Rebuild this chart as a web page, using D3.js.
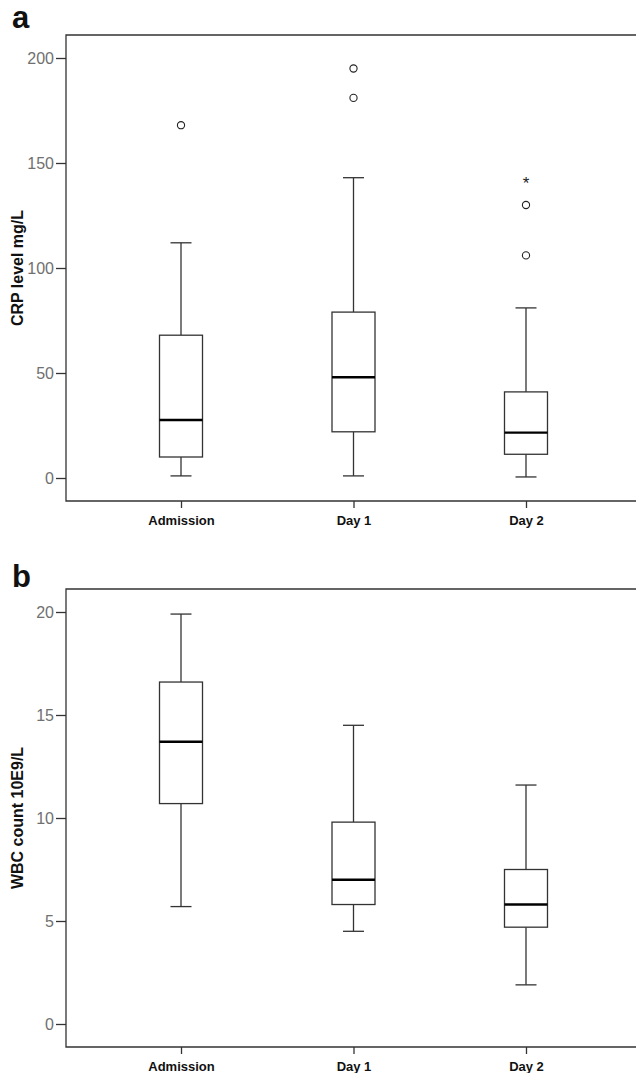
<!DOCTYPE html>
<html>
<head>
<meta charset="utf-8">
<script src="https://cdn.jsdelivr.net/npm/d3@7"></script>
<style>
  body { margin: 0; background: #fff; }
  text { font-family: "Liberation Sans", Arial, sans-serif; }
</style>
</head>
<body>
<div id="chart-area"></div>
<script>
// categories
var categories = ["Admission", "Day 1", "Day 2"];

// panel a: CRP level mg/L
var crpLow = [1, 1, 0.5];
var crpQ1 = [10, 22, 11.3];
var crpMedian = [27.6, 48, 21.6];
var crpQ3 = [68, 79, 41];
var crpHigh = [112, 143, 81];
var crpOutliers = [[168], [181, 195], [106, 130]];
var crpExtremes = [[], [], [142]];
var crpTicks = [0, 50, 100, 150, 200];

// panel b: WBC count 10E9/L
var wbcLow = [5.7, 4.5, 1.9];
var wbcQ1 = [10.7, 5.8, 4.7];
var wbcMedian = [13.7, 7.0, 5.8];
var wbcQ3 = [16.6, 9.8, 7.5];
var wbcHigh = [19.9, 14.5, 11.6];
var wbcOutliers = [[], [], []];
var wbcExtremes = [[], [], []];
var wbcTicks = [0, 5, 10, 15, 20];

var width = 636;
var height = 1073;

var svg = d3.select("#chart-area")
  .append("svg")
  .attr("width", width)
  .attr("height", height);

var frameLeft = 66;
var frameRight = 641;

var x = d3.scalePoint()
  .domain(categories)
  .range([frameLeft, frameRight])
  .padding(0.6667);

var boxW = 43;
var capW = 21;
var stroke = "#333";

function drawPanel(opt) {
  var g = svg.append("g");

  var y = d3.scaleLinear()
    .domain(opt.domain)
    .range(opt.range);

  var data = categories.map((c, i) => {
    return {
      cat: c,
      low: opt.low[i], q1: opt.q1[i], med: opt.median[i],
      q3: opt.q3[i], high: opt.high[i],
      out: opt.outliers[i], ext: opt.extremes[i]
    };
  });

  // frame
  g.append("path")
    .attr("d", "M" + frameRight + "," + opt.top + "H" + frameLeft + "V" + opt.bottom + "H" + frameRight)
    .attr("fill", "none")
    .attr("stroke", stroke)
    .attr("stroke-width", 1.3);

  // y axis
  var leftAxis = d3.axisLeft(y).tickValues(opt.ticks).tickSize(10).tickPadding(2);
  var yAxisGroup = g.append("g")
    .attr("transform", "translate(" + frameLeft + ",0)")
    .call(leftAxis);
  yAxisGroup.select(".domain").remove();
  yAxisGroup.selectAll(".tick line").attr("stroke", stroke).attr("stroke-width", 1.3);
  yAxisGroup.selectAll(".tick text")
    .attr("font-size", "16px")
    .attr("fill", "#707070")
    .style("font-family", "Liberation Sans, Arial, sans-serif");

  // x axis
  var bottomAxis = d3.axisBottom(x).tickSize(7).tickPadding(8);
  var xAxisGroup = g.append("g")
    .attr("transform", "translate(0," + opt.bottom + ")")
    .call(bottomAxis);
  xAxisGroup.select(".domain").remove();
  xAxisGroup.selectAll(".tick line").attr("stroke", stroke).attr("stroke-width", 1.3);
  xAxisGroup.selectAll(".tick text")
    .attr("font-size", "13px")
    .attr("font-weight", "bold")
    .attr("fill", "#111")
    .style("font-family", "Liberation Sans, Arial, sans-serif");

  // y label
  g.append("text")
    .attr("transform", "rotate(-90)")
    .attr("x", -(opt.top + opt.bottom) / 2)
    .attr("y", 23)
    .attr("text-anchor", "middle")
    .attr("font-size", "16px")
    .attr("font-weight", "bold")
    .attr("fill", "#111")
    .text(opt.label);

  // panel letter
  g.append("text")
    .attr("x", 12)
    .attr("y", opt.letterY)
    .attr("font-size", "31px")
    .attr("font-weight", "bold")
    .attr("fill", "#111")
    .text(opt.letter);

  var boxes = g.selectAll(".box")
    .data(data)
    .enter().append("g")
    .attr("class", "box");

  // whiskers
  boxes.append("line")
    .attr("x1", (d) => { return x(d.cat); })
    .attr("x2", (d) => { return x(d.cat); })
    .attr("y1", (d) => { return y(d.high); })
    .attr("y2", (d) => { return y(d.q3); })
    .attr("stroke", stroke).attr("stroke-width", 1.3);
  boxes.append("line")
    .attr("x1", (d) => { return x(d.cat); })
    .attr("x2", (d) => { return x(d.cat); })
    .attr("y1", (d) => { return y(d.q1); })
    .attr("y2", (d) => { return y(d.low); })
    .attr("stroke", stroke).attr("stroke-width", 1.3);
  boxes.append("line")
    .attr("x1", (d) => { return x(d.cat) - capW / 2; })
    .attr("x2", (d) => { return x(d.cat) + capW / 2; })
    .attr("y1", (d) => { return y(d.high); })
    .attr("y2", (d) => { return y(d.high); })
    .attr("stroke", stroke).attr("stroke-width", 1.3);
  boxes.append("line")
    .attr("x1", (d) => { return x(d.cat) - capW / 2; })
    .attr("x2", (d) => { return x(d.cat) + capW / 2; })
    .attr("y1", (d) => { return y(d.low); })
    .attr("y2", (d) => { return y(d.low); })
    .attr("stroke", stroke).attr("stroke-width", 1.3);

  // box
  boxes.append("rect")
    .attr("x", (d) => { return x(d.cat) - boxW / 2; })
    .attr("y", (d) => { return y(d.q3); })
    .attr("width", boxW)
    .attr("height", (d) => { return y(d.q1) - y(d.q3); })
    .attr("fill", "#fff")
    .attr("stroke", stroke).attr("stroke-width", 1.3);

  // median
  boxes.append("line")
    .attr("x1", (d) => { return x(d.cat) - boxW / 2; })
    .attr("x2", (d) => { return x(d.cat) + boxW / 2; })
    .attr("y1", (d) => { return y(d.med); })
    .attr("y2", (d) => { return y(d.med); })
    .attr("stroke", "#000").attr("stroke-width", 2.4);

  // outliers
  boxes.selectAll(".out")
    .data((d) => { return d.out.map((v) => { return { cat: d.cat, v: v }; }); })
    .enter().append("circle")
    .attr("class", "out")
    .attr("cx", (d) => { return x(d.cat); })
    .attr("cy", (d) => { return y(d.v); })
    .attr("r", 3.6)
    .attr("fill", "#fff")
    .attr("stroke", "#222")
    .attr("stroke-width", 1.1);

  // extremes
  boxes.selectAll(".ext")
    .data((d) => { return d.ext.map((v) => { return { cat: d.cat, v: v }; }); })
    .enter().append("text")
    .attr("class", "ext")
    .attr("x", (d) => { return x(d.cat); })
    .attr("y", (d) => { return y(d.v) + 9; })
    .attr("text-anchor", "middle")
    .attr("font-size", "17px")
    .attr("fill", "#222")
    .text("*");
}

drawPanel({
  letter: "a", letterY: 28, label: "CRP level mg/L",
  top: 35, bottom: 501,
  domain: [0, 200], range: [478, 58],
  ticks: crpTicks,
  low: crpLow, q1: crpQ1, median: crpMedian, q3: crpQ3, high: crpHigh,
  outliers: crpOutliers, extremes: crpExtremes
});

drawPanel({
  letter: "b", letterY: 587, label: "WBC count 10E9/L",
  top: 589, bottom: 1047,
  domain: [0, 20], range: [1024, 612],
  ticks: wbcTicks,
  low: wbcLow, q1: wbcQ1, median: wbcMedian, q3: wbcQ3, high: wbcHigh,
  outliers: wbcOutliers, extremes: wbcExtremes
});
</script>
</body>
</html>
